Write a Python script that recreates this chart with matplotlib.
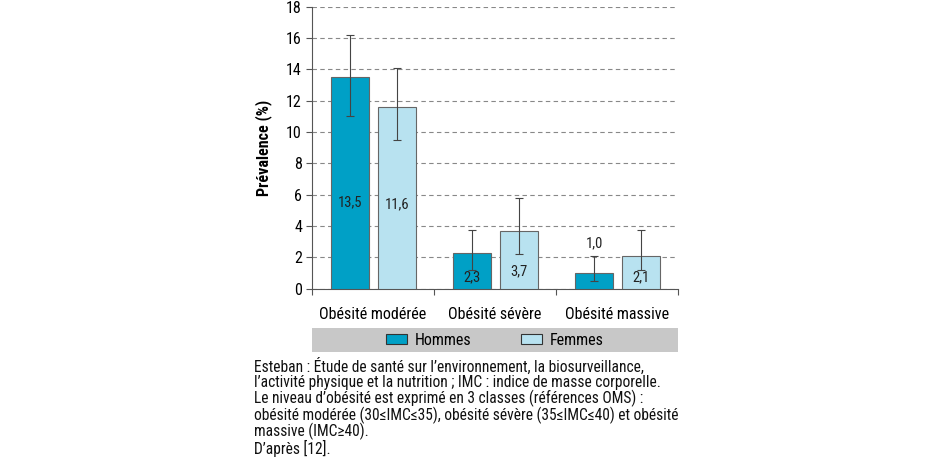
import matplotlib
matplotlib.use("Agg")
import matplotlib.pyplot as plt
from matplotlib.patches import Rectangle
import numpy as np

plt.rcParams["font.family"] = ["Roboto Condensed", "Liberation Sans", "DejaVu Sans"]

categories = ["Obésité modérée", "Obésité sévère", "Obésité massive"]
hommes = [13.5, 2.3, 1.0]
femmes = [11.6, 3.7, 2.1]
hommes_lo = [11.0, 1.2, 0.5]
hommes_hi = [16.2, 3.75, 2.1]
femmes_lo = [9.5, 2.2, 1.2]
femmes_hi = [14.1, 5.8, 3.75]
hommes_labels = ["13,5", "2,3", "1,0"]
femmes_labels = ["11,6", "3,7", "2,1"]
# where each value label sits (y in data units)
hommes_label_y = [5.5, 0.7, 2.9]
femmes_label_y = [5.4, 1.1, 0.7]

C_H = "#00a0c6"
C_F = "#b8e2f0"
EDGE = "#666666"

fig = plt.figure(figsize=(9.34, 4.63), dpi=100)
ax = fig.add_axes([0.3337, 0.3765, 0.392, 0.609])

x = np.arange(len(categories))
w = 0.31
xh = x + 0.314
xf = x + 0.70
ax.bar(xh, hommes, w, color=C_H, edgecolor=EDGE, linewidth=0.8, zorder=3)
ax.bar(xf, femmes, w, color=C_F, edgecolor=EDGE, linewidth=0.8, zorder=3)

h = np.array(hommes); f = np.array(femmes)
ax.errorbar(xh, h, yerr=[h - np.array(hommes_lo), np.array(hommes_hi) - h],
            fmt="none", ecolor="#444444", elinewidth=0.8, capsize=3, capthick=0.8, zorder=4)
ax.errorbar(xf, f, yerr=[f - np.array(femmes_lo), np.array(femmes_hi) - f],
            fmt="none", ecolor="#444444", elinewidth=0.8, capsize=3, capthick=0.8, zorder=4)

for xi, yi, t in zip(xh, hommes_label_y, hommes_labels):
    ax.text(xi, yi, t, ha="center", va="center", fontsize=10.5, color="#222222", zorder=5)
for xi, yi, t in zip(xf, femmes_label_y, femmes_labels):
    ax.text(xi, yi, t, ha="center", va="center", fontsize=10.5, color="#222222", zorder=5)

ax.set_xlim(0, 3)
ax.set_ylim(0, 18)
ax.set_yticks(range(0, 19, 2))
ax.set_xticks([0, 1, 2, 3])
ax.set_xticklabels([])
ax.set_xticks(x + 0.5, minor=True)
ax.set_xticklabels(categories, minor=True, fontsize=11.5)
ax.tick_params(axis="x", which="minor", length=0, pad=13)
ax.tick_params(axis="x", which="major", length=4, color="#555555", direction="out")
ax.tick_params(axis="y", length=4, color="#555555", labelsize=11.5, pad=3)
ax.yaxis.grid(True, linestyle=(0, (4, 3)), color="#888888", linewidth=0.8, zorder=0)
ax.set_axisbelow(True)
for s in ("top", "right"):
    ax.spines[s].set_visible(False)
for s in ("left", "bottom"):
    ax.spines[s].set_color("#555555")
    ax.spines[s].set_linewidth(0.8)
ax.set_ylabel("Prévalence (%)", fontsize=11.5, fontweight="bold", labelpad=10)

# legend band
ax.add_patch(Rectangle((0, -0.226), 1, 0.085, transform=ax.transAxes,
                       facecolor="#c8c8c8", edgecolor="none", clip_on=False))
handles = [Rectangle((0, 0), 1, 1, facecolor=C_H, edgecolor="#333333", linewidth=0.8),
           Rectangle((0, 0), 1, 1, facecolor=C_F, edgecolor="#333333", linewidth=0.8)]
ax.legend(handles, ["Hommes", "Femmes"], loc="center", bbox_to_anchor=(0.5, -0.1835),
          ncol=2, frameon=False, fontsize=11.5, handlelength=1.3, handleheight=0.55,
          columnspacing=3.1, handletextpad=0.5)

caption = [
    "Esteban : Étude de santé sur l’environnement, la biosurveillance,",
    "l’activité physique et la nutrition ; IMC : indice de masse corporelle.",
    "Le niveau d’obésité est exprimé en 3 classes (références OMS) :",
    "obésité modérée (30≤IMC≤35), obésité sévère (35≤IMC≤40) et obésité",
    "massive (IMC≥40).",
    "D’après [12].",
]
y0 = 1 - 366 / 463
for i, line in enumerate(caption):
    fig.text(254 / 934, y0 - i * 16.4 / 463, line, ha="left", va="center",
             fontsize=11.2, color="#111111")

fig.savefig("out.png", dpi=100)
